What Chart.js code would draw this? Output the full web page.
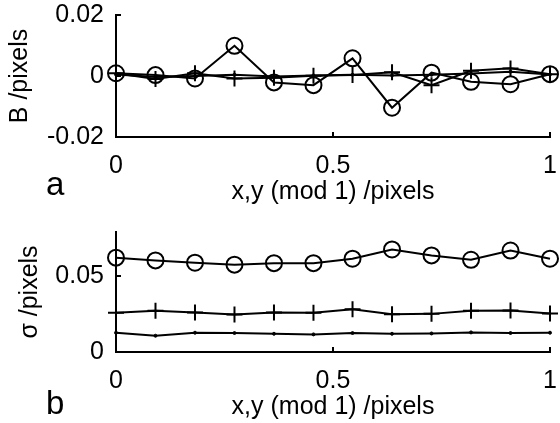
<!DOCTYPE html>
<html>
<head>
<meta charset="utf-8">
<script src="https://cdn.jsdelivr.net/npm/chart.js@4/dist/chart.umd.min.js"></script>
<style>
  body { margin: 0; background: #fff; width: 560px; height: 423px; position: relative; overflow: hidden;
         font-family: "Liberation Sans", Arial, sans-serif; }
  .box { position: absolute; left: 0; width: 560px; }
  #boxA { top: 0; height: 215px; }
  #boxB { top: 215px; height: 208px; }
  .panel { position: absolute; font-size: 33px; line-height: 1; color: #000; }
</style>
</head>
<body>
<div class="box" id="boxA"><canvas id="chartA" width="560" height="215"></canvas></div>
<div class="box" id="boxB"><canvas id="chartB" width="560" height="208"></canvas></div>
<div class="panel" style="left:46px;top:167px">a</div>
<div class="panel" style="left:46px;top:386px">b</div>
<script>
// x,y (mod 1) sample positions
const xPos = [0, 0.091, 0.182, 0.273, 0.364, 0.455, 0.545, 0.636, 0.727, 0.818, 0.909, 1];
const xTicks = [0, 0.5, 1];

// panel a: bias B
const biasCircle = [0.0009, 0.0003, -0.0008, 0.0099, -0.0021, -0.0030, 0.0058, -0.0104, 0.0011, -0.0019, -0.0027, 0.0006];
const biasPlus   = [0.0009, -0.0010, 0.0009, -0.0008, -0.0006, 0.0001, 0.0003, 0.0012, -0.0030, 0.0017, 0.0025, 0.0006];
const biasDot    = [0.0005, -0.0003, 0.0000, 0.0004, -0.0002, 0.0002, 0.0004, 0.0002, 0.0004, 0.0008, 0.0014, 0.0005];
const biasTicks  = [-0.02, 0, 0.02];

// panel b: sigma
const sigCircle = [0.0621, 0.0603, 0.0588, 0.0575, 0.0585, 0.0585, 0.0614, 0.0675, 0.0636, 0.0607, 0.0668, 0.0614];
const sigPlus   = [0.0258, 0.0271, 0.0260, 0.0247, 0.0260, 0.0258, 0.0282, 0.0249, 0.0251, 0.0271, 0.0273, 0.0254];
const sigDot    = [0.0127, 0.0107, 0.0127, 0.0125, 0.0120, 0.0116, 0.0125, 0.0120, 0.0122, 0.0129, 0.0125, 0.0127];
const sigTicks  = [0, 0.05];

const FONT = { family: '"Liberation Sans", Arial, sans-serif', size: 25 };

// matlab style ticks pointing into the plot
const inwardTicks = {
  id: 'inwardTicks',
  afterDraw(chart) {
    const { ctx, chartArea: a, scales: { x, y } } = chart;
    ctx.save();
    ctx.strokeStyle = '#000';
    ctx.lineWidth = 2;
    ctx.beginPath();
    x.ticks.forEach(t => {
      const px = x.getPixelForValue(t.value);
      ctx.moveTo(px, a.bottom); ctx.lineTo(px, a.bottom - 5);
    });
    y.ticks.forEach(t => {
      const py = y.getPixelForValue(t.value);
      ctx.moveTo(a.left, py); ctx.lineTo(a.left + 5, py);
    });
    ctx.stroke();
    ctx.restore();
  }
};

function series(vals, style) {
  const base = {
    data: vals.map((v, i) => ({ x: xPos[i], y: v })),
    borderColor: '#000', borderWidth: 2, tension: 0, clip: false,
    pointBorderColor: '#000', pointBorderWidth: 2
  };
  if (style === 'circle') Object.assign(base, { pointStyle: 'circle', pointRadius: 8, pointBackgroundColor: 'rgba(0,0,0,0)' });
  if (style === 'plus') Object.assign(base, { pointStyle: 'cross', pointRadius: 8, pointBackgroundColor: '#000' });
  if (style === 'dot') Object.assign(base, { pointStyle: 'circle', pointRadius: 1.5, pointBackgroundColor: '#000', pointBorderWidth: 1 });
  return base;
}

function makeChart(id, sets, yMin, yMax, yTicks, yTitle, cfg) {
  return new Chart(document.getElementById(id), {
    type: 'line',
    data: { datasets: sets },
    options: {
      responsive: false,
      animation: false,
      layout: { padding: { left: 0, top: cfg.top, right: 8, bottom: 0 } },
      plugins: { legend: { display: false }, tooltip: { enabled: false } },
      elements: { point: { hoverRadius: 0 } },
      scales: {
        x: {
          type: 'linear', min: 0, max: 1,
          afterBuildTicks: s => { s.ticks = xTicks.map(v => ({ value: v })); },
          afterFit: s => { s.height = cfg.xh; s.paddingLeft = 0; s.paddingRight = 0; },
          ticks: { color: '#000', font: FONT, padding: 14, maxRotation: 0, callback: v => String(v) },
          grid: { drawOnChartArea: false, drawTicks: false },
          border: { display: true, color: '#000', width: 2 },
          title: { display: true, text: 'x,y (mod 1) /pixels', color: '#000', font: FONT, padding: cfg.xtp }
        },
        y: {
          type: 'linear', min: yMin, max: yMax,
          afterBuildTicks: s => { s.ticks = yTicks.map(v => ({ value: v })); },
          afterFit: s => { s.width = 116; s.paddingTop = 0; s.paddingBottom = 0; },
          ticks: { color: '#000', font: FONT, padding: 12, callback: v => String(v) },
          grid: { drawOnChartArea: false, drawTicks: false },
          border: { display: true, color: '#000', width: 2 },
          title: { display: true, text: yTitle, color: '#000', font: FONT, padding: cfg.ytp }
        }
      }
    },
    plugins: [inwardTicks]
  });
}

makeChart('chartA',
  [series(biasCircle, 'circle'), series(biasPlus, 'plus'), series(biasDot, 'dot')],
  -0.02, 0.02, biasTicks, 'B /pixels', { top: 15, xh: 78, xtp: 8, ytp: 5 });

makeChart('chartB',
  [series(sigCircle, 'circle'), series(sigPlus, 'plus'), series(sigDot, 'dot')],
  0, 0.079, sigTicks, 'σ /pixels', { top: 17, xh: 71, xtp: 1, ytp: 15 });
</script>
</body>
</html>
